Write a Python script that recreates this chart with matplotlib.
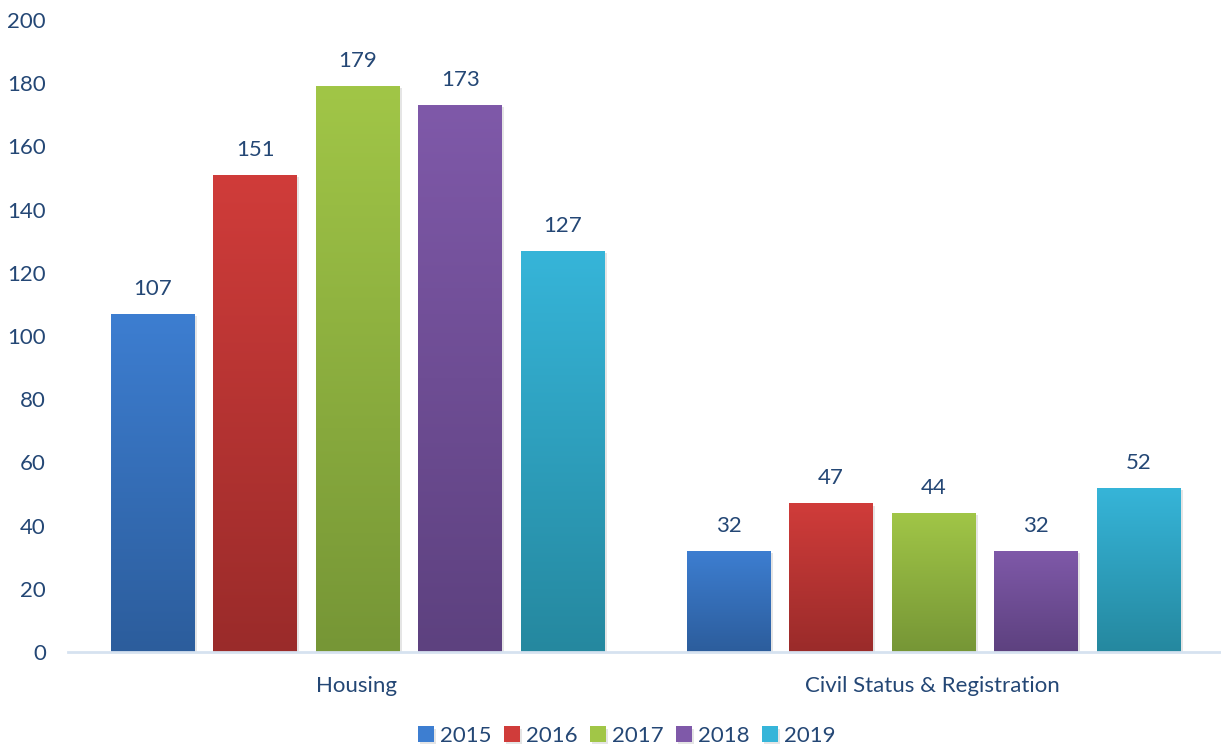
"""Grouped bar chart: cases per year for Housing and Civil Status & Registration."""

import matplotlib

matplotlib.use("Agg")

import matplotlib.pyplot as plt
import matplotlib.patheffects as pe
import numpy as np
from matplotlib.colors import LinearSegmentedColormap

plt.rcParams["font.family"] = ["Lato", "DejaVu Sans"]

categories = ["Housing", "Civil Status & Registration"]
years = ["2015", "2016", "2017", "2018", "2019"]
values = {
    "2015": [107, 32],
    "2016": [151, 47],
    "2017": [179, 44],
    "2018": [173, 32],
    "2019": [127, 52],
}

# (top colour, bottom colour) for the vertical gradient of each series
colors = {
    "2015": ("#3D7ED1", "#2C5D9C"),
    "2016": ("#D03C3A", "#9A2B2A"),
    "2017": ("#A1C647", "#769636"),
    "2018": ("#7F59A9", "#5D417F"),
    "2019": ("#36B5D9", "#25889F"),
}

TEXT = "#244775"
FS = 16

fig = plt.figure(figsize=(12.21, 7.49), dpi=100)
ax = fig.add_axes([68 / 1221, 97 / 749, 1152 / 1221, 632 / 749])

x = np.arange(len(categories))
step = 0.178
width = 0.145
grad = np.linspace(1, 0, 256).reshape(-1, 1)

for i, year in enumerate(years):
    top, bottom = colors[year]
    cmap = LinearSegmentedColormap.from_list(year, [bottom, top])
    pos = x + (i - 2) * step + 0.003
    bars = ax.bar(pos, values[year], width, color=top, label=year, zorder=2,
                  edgecolor="none")
    for bar, v in zip(bars, values[year]):
        bar.set_path_effects([
            pe.SimplePatchShadow(offset=(1.5, -1.5), shadow_rgbFace="#999999", alpha=0.25),
            pe.Normal(),
        ])
        x0, w = bar.get_x(), bar.get_width()
        img = ax.imshow(grad, cmap=cmap, aspect="auto", extent=(x0, x0 + w, 0, v),
                        zorder=3, vmin=0, vmax=1)
        img.set_clip_path(bar)
        ax.annotate(str(v), (x0 + w / 2, v), xytext=(0, 18), textcoords="offset points",
                    ha="center", va="center", fontsize=FS, color=TEXT)

ax.set_xlim(-0.5, 1.5)
ax.set_ylim(0, 200)
ax.set_yticks(range(0, 201, 20))
ax.set_xticks(x)
ax.set_xticklabels(categories)
ax.tick_params(axis="both", length=0, labelsize=FS, labelcolor=TEXT)
ax.tick_params(axis="y", pad=16)
ax.tick_params(axis="x", pad=17)
for side in ["left", "right", "top"]:
    ax.spines[side].set_visible(False)
ax.spines["bottom"].set_color("#D6E2F0")
ax.spines["bottom"].set_linewidth(2)
ax.spines["bottom"].set_zorder(4)

handles, labels = ax.get_legend_handles_labels()
fig.legend(handles, labels, loc="center", bbox_to_anchor=(627 / 1221, 13 / 749), ncol=5,
           frameon=False, fontsize=FS, handlelength=0.7, handleheight=0.7,
           handletextpad=0.3, columnspacing=0.55, labelcolor=TEXT)

fig.savefig("out.png", dpi=100)
